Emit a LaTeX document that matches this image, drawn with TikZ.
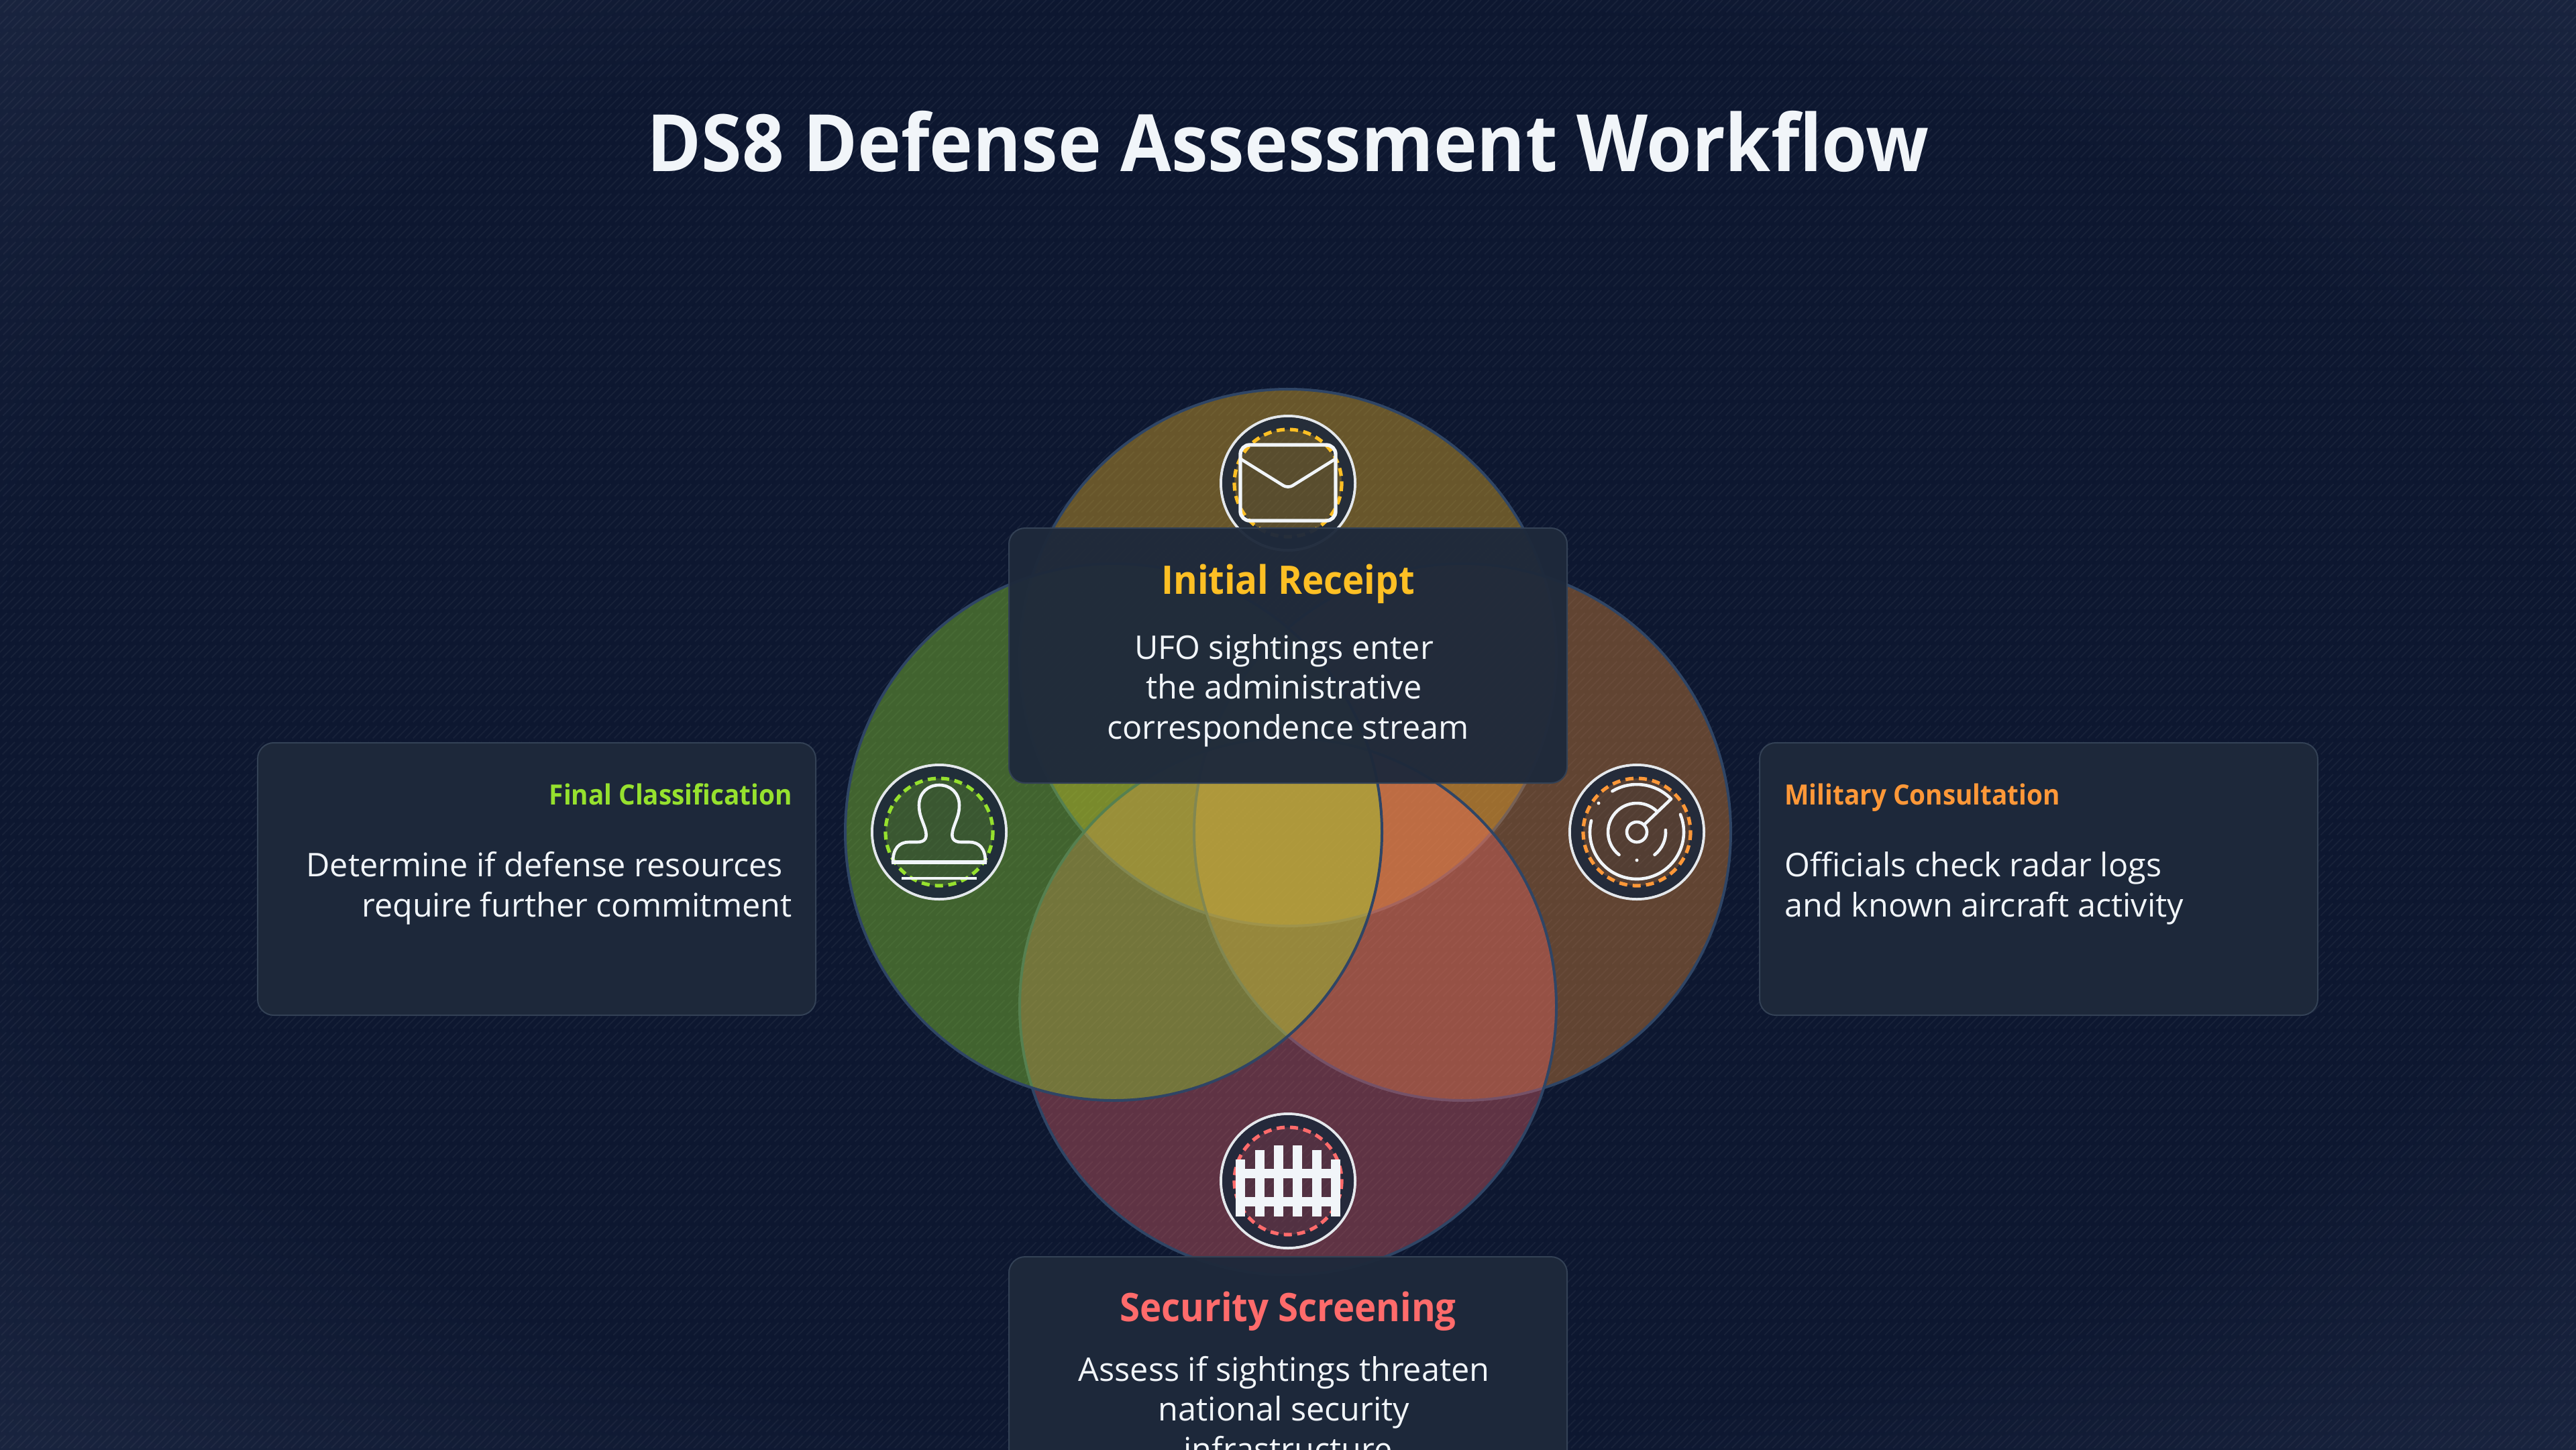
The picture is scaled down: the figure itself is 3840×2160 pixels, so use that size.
\documentclass[tikz,border=0pt]{standalone}
\usepackage{fontspec}
\setmainfont[BoldFeatures={FakeStretch=0.93}]{Open Sans}
\usetikzlibrary{positioning}
\definecolor{bgmid}{HTML}{0D1730}
\definecolor{bgedge}{HTML}{1B2641}
\definecolor{ringline}{HTML}{2F4565}
\definecolor{panelfill}{HTML}{1E293B}
\definecolor{panelline}{HTML}{334155}
\definecolor{inkwhite}{HTML}{F1F5F9}
\definecolor{discwhite}{HTML}{E4E8EC}
\definecolor{receiptcol}{HTML}{FDBF24}
\definecolor{militarycol}{HTML}{FF9838}
\definecolor{securitycol}{HTML}{FF6B6B}
\definecolor{finalcol}{HTML}{96E12E}
\pgfdeclareradialshading{bgglow}{\pgfpoint{0bp}{0bp}}{
  color(0bp)=(bgmid); color(25bp)=(bgmid); color(37bp)=(bgedge); color(50bp)=(bgedge)}
\tikzset{
    venn/.style={
           circle,
           draw=ringline,
           line width=2pt,
           fill opacity=0.38,
           draw opacity=1,
           inner sep=0pt,
           outer sep=0pt,
           minimum size=400pt,
           },
    discbase/.style={
           circle,
           draw=discwhite,
           line width=2pt,
           inner sep=0pt,
           outer sep=0pt,
           minimum size=100pt,
           },
    panel/.style={
           rectangle,
           rounded corners=12pt,
           draw=panelline,
           line width=1pt,
           fill=panelfill,
           fill opacity=0.96,
           inner sep=0pt,
           minimum width=416pt,
           },
    headmain/.style={
           anchor=base,
           inner sep=0pt,
           font=\fontsize{29.3pt}{35pt}\selectfont\bfseries,
           },
    headside/.style={
           inner sep=0pt,
           font=\fontsize{20.8pt}{26pt}\selectfont\bfseries,
           },
    bodytext/.style={
           text=inkwhite,
           inner sep=0pt,
           font=\fontsize{24.3pt}{29.75pt}\selectfont,
           },
    stripe/.style={
           draw=white,
           draw opacity=0.045,
           line width=1pt,
           dash pattern=on 13pt off 4pt,
           },
    iconline/.style={
           draw=inkwhite,
           line width=2.3pt,
           line cap=round,
           line join=round,
           },
}
\begin{document}
\begin{tikzpicture}[x=0.5pt,y=-0.5pt]
\useasboundingbox (0,0) rectangle (3840,2160);
\clip (0,0) rectangle (3840,2160);
% BACKGROUND
\shade[shading=bgglow] (0,0) rectangle (3840,2160);
\foreach \sx in {0,12,...,6000}
  \draw[stripe] (\sx,0) -- ++(-2160,2160);
% Position of the middle of the four circles (MID)
\coordinate (MID) at (1920,1240);
% Position of the circles, last one on top
\node[venn, fill=receiptcol, above of = MID, node distance = 130pt] (RECEIPT) {};
\node[venn, fill=militarycol, fill opacity=0.35, right of = MID, node distance = 130pt] (MILITARY) {};
\node[venn, fill=securitycol, fill opacity=0.34, below of = MID, node distance = 130pt] (SECURITY) {};
\node[venn, fill=finalcol, left of = MID, node distance = 130pt] (FINAL) {};
% Position of the icon discs
\node[discbase, above of = RECEIPT, node distance = 130pt] (ENVELOPE) {};
\node[discbase, right of = MILITARY, node distance = 130pt] (RADAR) {};
\node[discbase, below of = SECURITY, node distance = 130pt] (FENCE) {};
\node[discbase, left of = FINAL, node distance = 130pt] (STAMP) {};
% Rings of the discs
\foreach \disc/\col in {ENVELOPE/receiptcol,RADAR/militarycol,FENCE/securitycol,STAMP/finalcol}{
  \fill[panelfill, opacity=0.2] (\disc.center) circle (80);
  \draw[panelfill, draw opacity=0.9, line width=9pt] (\disc.center) circle (89);
  \draw[\col, line width=2.6pt, dash pattern=on 6pt off 4pt] (\disc.center) circle (80);
}
% Envelope icon
\begin{scope}[shift={(ENVELOPE.center)}]
\draw[iconline, line width=2.7pt, rounded corners=7pt] (-71,-57) rectangle (71,56);
\draw[iconline, rounded corners=4pt] (-69,-35) -- (0,8) -- (69,-35);
\end{scope}
% Radar icon
\begin{scope}[shift={(RADAR.center)}, yscale=-1]
\draw[iconline] (0,0) circle (15);
\draw[iconline] (121:71) arc[start angle=121, end angle=44, radius=71] -- (45:16);
\draw[iconline] (166:70) arc[start angle=166, end angle=382, radius=70];
\draw[iconline] (48:43) arc[start angle=48, end angle=232, radius=43];
\draw[iconline] (4:43) arc[start angle=4, end angle=-52, radius=43];
\fill[inkwhite] (-57,43) circle (2.5);
\fill[inkwhite] (0,-42) circle (2.5);
\end{scope}
% Fence icon
\begin{scope}[shift={(FENCE.center)}]
\foreach \cx/\ptop in {-70.7/-32,-42.5/-46,-14.2/-53,14.2/-53,42.5/-46,70.7/-32}
  \fill[inkwhite] (\cx-7,\ptop) rectangle (\cx+7,52.7);
\fill[inkwhite] (-77.7,-17.7) rectangle (77.7,-3.7);
\fill[inkwhite] (-77.7,24.3) rectangle (77.7,38.3);
\end{scope}
% Stamp icon
\begin{scope}[shift={(STAMP.center)}]
\draw[iconline] (-69,45) .. controls (-69,25) and (-60,15) .. (-45,15) -- (-33,15)
  .. controls (-20,15) and (-17,8) .. (-21,-5)
  .. controls (-25,-18) and (-30,-25) .. (-30,-40)
  .. controls (-30,-58) and (-17,-70) .. (0,-70)
  .. controls (17,-70) and (30,-58) .. (30,-40)
  .. controls (30,-25) and (25,-18) .. (21,-5)
  .. controls (17,8) and (20,15) .. (33,15) -- (45,15)
  .. controls (60,15) and (69,25) .. (69,45);
\draw[iconline, line width=2.6pt, line cap=butt] (-71,45) -- (71,45);
\draw[iconline, line cap=butt] (-56,69) -- (56,69);
\end{scope}
% Position of the panels
\node[panel, minimum height=190pt] (RECEIPTBOX) at (1920,977) {};
\node[panel, minimum height=203pt] (FINALBOX) at (800,1310) {};
\node[panel, minimum height=203pt] (MILITARYBOX) at (3039,1310) {};
\node[panel, minimum height=190pt] (SECURITYBOX) at (1920,2063) {};
% Text of the panels
\node[headmain, text=receiptcol] (RECEIPTHEAD) at (1920,885) {Initial Receipt};
\node[bodytext, anchor=base, align=center] (RECEIPTTEXT) at (1920,1101)
{UFO sightings enter\kern6pt\\
the administrative\kern6pt\\
correspondence stream};
\node[headside, anchor=base east, text=finalcol] (FINALHEAD) at (1181,1199) {Final Classification};
\node[bodytext, anchor=base east, align=right] (FINALTEXT) at (1181,1366)
{Determine if defense resources\kern7pt\\
require further commitment};
\node[headside, anchor=base west, text=militarycol] (MILITARYHEAD) at (2660,1199) {Military Consultation};
\node[bodytext, anchor=base west, align=left] (MILITARYTEXT) at (2660,1366)
{Officials check radar logs\\
and known aircraft activity};
\node[headmain, text=securitycol] (SECURITYHEAD) at (1920,1969) {Security Screening};
\node[bodytext, anchor=base, align=center] (SECURITYTEXT) at (1920,2177)
{Assess if sightings threaten\kern6pt\\
national security\kern6pt\\
infrastructure};
% Title
\node[anchor=base, inner sep=0pt, text=inkwhite, font=\fontsize{59pt}{70pt}\selectfont\bfseries] (TITLE) at (1920,255)
{DS8 Defense Assessment Workflow};
\end{tikzpicture}
\end{document}
